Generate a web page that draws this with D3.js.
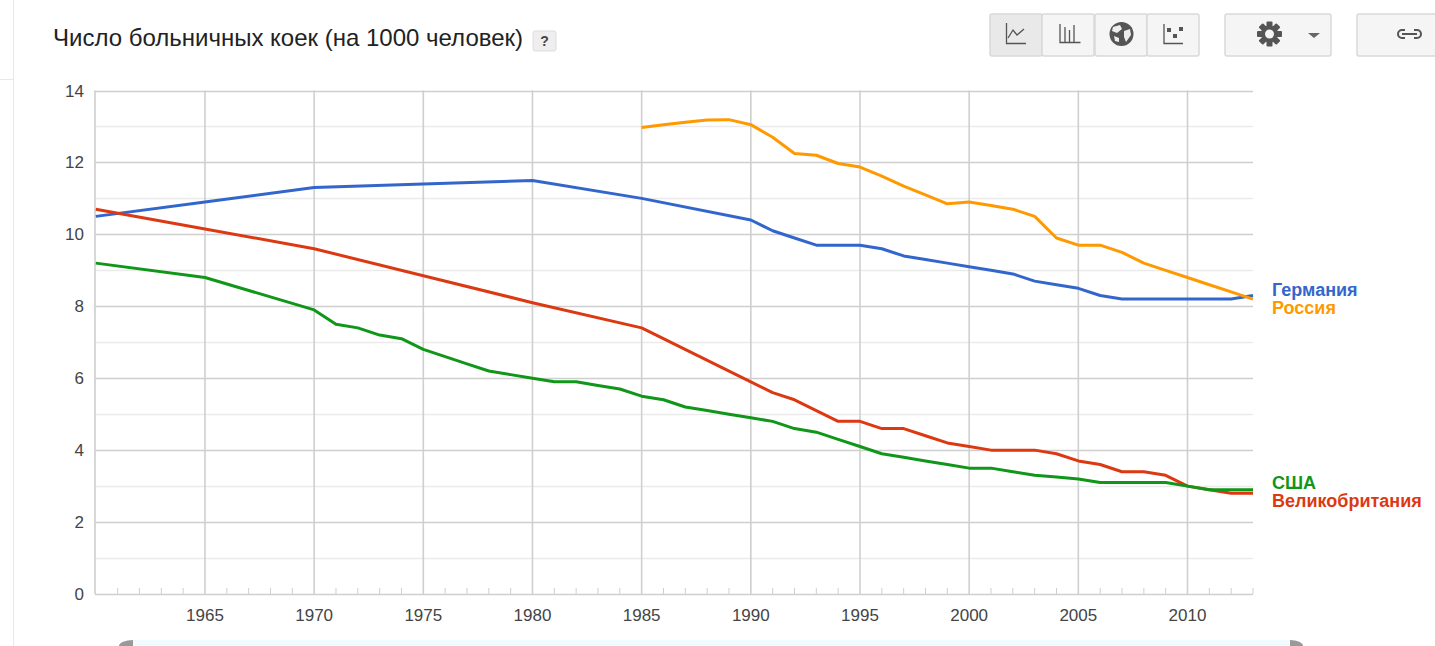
<!DOCTYPE html>
<html>
<head>
<meta charset="utf-8">
<script src="https://cdnjs.cloudflare.com/ajax/libs/d3/7.8.5/d3.min.js"></script>
<style>
  html, body { margin: 0; padding: 0; background: #fff; overflow: hidden; }
  text { font-family: "Liberation Sans", Arial, sans-serif; }
</style>
</head>
<body>
<div id="myDataVis"></div>
<script>
// values
const chartTitle = "Число больничных коек (на 1000 человек)";
const yTicks = [0, 2, 4, 6, 8, 10, 12, 14];
const yMinorTicks = [1, 3, 5, 7, 9, 11, 13];
const xTicks = [1965, 1970, 1975, 1980, 1985, 1990, 1995, 2000, 2005, 2010];

const germanyYears = [1960, 1965, 1970, 1975, 1980, 1985, 1990, 1991, 1992, 1993, 1994, 1995, 1996, 1997, 1998, 1999, 2000, 2001, 2002, 2003, 2004, 2005, 2006, 2007, 2008, 2009, 2010, 2011, 2012, 2013];
const germanyValues = [10.5, 10.9, 11.3, 11.4, 11.5, 11.0, 10.4, 10.1, 9.9, 9.7, 9.7, 9.7, 9.6, 9.4, 9.3, 9.2, 9.1, 9.0, 8.9, 8.7, 8.6, 8.5, 8.3, 8.2, 8.2, 8.2, 8.2, 8.2, 8.2, 8.3];

const russiaYears = [1985, 1986, 1987, 1988, 1989, 1990, 1991, 1992, 1993, 1994, 1995, 1996, 1997, 1998, 1999, 2000, 2001, 2002, 2003, 2004, 2005, 2006, 2007, 2008, 2009, 2010, 2011, 2012, 2013];
const russiaValues = [12.97, 13.05, 13.12, 13.18, 13.19, 13.05, 12.7, 12.25, 12.2, 11.97, 11.87, 11.62, 11.34, 11.1, 10.85, 10.9, 10.8, 10.7, 10.5, 9.9, 9.7, 9.7, 9.5, 9.2, 9.0, 8.8, 8.6, 8.4, 8.2];

const ukYears = [1960, 1965, 1970, 1975, 1980, 1985, 1990, 1991, 1992, 1993, 1994, 1995, 1996, 1997, 1998, 1999, 2000, 2001, 2002, 2003, 2004, 2005, 2006, 2007, 2008, 2009, 2010, 2011, 2012, 2013];
const ukValues = [10.7, 10.15, 9.6, 8.85, 8.1, 7.4, 5.9, 5.6, 5.4, 5.1, 4.8, 4.8, 4.6, 4.6, 4.4, 4.2, 4.1, 4.0, 4.0, 4.0, 3.9, 3.7, 3.6, 3.4, 3.4, 3.3, 3.0, 2.9, 2.8, 2.8];

const usaYears = [1960, 1965, 1970, 1971, 1972, 1973, 1974, 1975, 1976, 1977, 1978, 1979, 1980, 1981, 1982, 1983, 1984, 1985, 1986, 1987, 1988, 1989, 1990, 1991, 1992, 1993, 1994, 1995, 1996, 1997, 1998, 1999, 2000, 2001, 2002, 2003, 2004, 2005, 2006, 2007, 2008, 2009, 2010, 2011, 2012, 2013];
const usaValues = [9.2, 8.8, 7.9, 7.5, 7.4, 7.2, 7.1, 6.8, 6.6, 6.4, 6.2, 6.1, 6.0, 5.9, 5.9, 5.8, 5.7, 5.5, 5.4, 5.2, 5.1, 5.0, 4.9, 4.8, 4.6, 4.5, 4.3, 4.1, 3.9, 3.8, 3.7, 3.6, 3.5, 3.5, 3.4, 3.3, 3.25, 3.2, 3.1, 3.1, 3.1, 3.1, 3.0, 2.9, 2.9, 2.9];

const width = 1435;
const height = 646;
const margin = {top: 90.5, right: 182, left: 95, bottom: 52};
const plotRight = width - margin.right;
const plotBottom = height - margin.bottom;

const xScale = d3.scaleLinear().domain([1960, 2013]).range([margin.left + 0.8, plotRight]);
const yScale = d3.scaleLinear().domain([0, 14]).range([plotBottom, margin.top]);

const svg = d3.select("#myDataVis").append("svg")
    .attr("width", width).attr("height", height)
    .style("display", "block");

// faint page frame on the left
svg.append("path").attr("d", "M13.5,0V646M0,79.5H13.5").attr("fill", "none").attr("stroke", "#e8e8e8");

svg.append("text").attr("x", 53).attr("y", 46)
    .style("font-size", "24px").attr("fill", "#222").text(chartTitle);

// "?" help button
const help = svg.append("g");
help.append("rect").attr("x", 533).attr("y", 31).attr("width", 23).attr("height", 20).attr("rx", 2)
    .attr("fill", "#eee").attr("stroke", "#ddd");
help.append("text").attr("x", 544.5).attr("y", 46).attr("text-anchor", "middle")
    .style("font-size", "14px").style("font-weight", "bold").attr("fill", "#444").text("?");

// grid
svg.append("g").selectAll("line").data(yMinorTicks).enter().append("line")
    .attr("x1", margin.left).attr("x2", plotRight)
    .attr("y1", d => Math.round(yScale(d)) + 0.5).attr("y2", d => Math.round(yScale(d)) + 0.5)
    .attr("stroke", "#ebebeb").attr("stroke-width", 1.4);
svg.append("g").selectAll("line").data(yTicks).enter().append("line")
    .attr("x1", margin.left).attr("x2", plotRight)
    .attr("y1", d => Math.round(yScale(d)) + 0.5).attr("y2", d => Math.round(yScale(d)) + 0.5)
    .attr("stroke", "#cfcfcf").attr("stroke-width", 1.6);
svg.append("g").selectAll("line").data(xTicks).enter().append("line")
    .attr("x1", d => xScale(d)).attr("x2", d => xScale(d))
    .attr("y1", margin.top).attr("y2", plotBottom)
    .attr("stroke", "#cfcfcf").attr("stroke-width", 1.6);
svg.append("line").attr("x1", margin.left).attr("x2", margin.left)
    .attr("y1", margin.top).attr("y2", plotBottom)
    .attr("stroke", "#cfcfcf").attr("stroke-width", 1.6);

// small yearly ticks
svg.append("g").selectAll("line").data(d3.range(1961, 2014).filter(y => !xTicks.includes(y))).enter().append("line")
    .attr("x1", d => xScale(d)).attr("x2", d => xScale(d))
    .attr("y1", plotBottom - 6).attr("y2", plotBottom)
    .attr("stroke", "#cfcfcf");

// axis labels
svg.append("g").selectAll("text").data(yTicks).enter().append("text")
    .attr("x", margin.left - 11).attr("y", d => yScale(d) + 6).attr("text-anchor", "end")
    .style("font-size", "17px").attr("fill", "#444").text(d => d);
svg.append("g").selectAll("text").data(xTicks).enter().append("text")
    .attr("x", d => xScale(d)).attr("y", plotBottom + 27).attr("text-anchor", "middle")
    .style("font-size", "17px").attr("fill", "#444").text(d => d);

// lines, drawn in the original stacking order
const line = d3.line().x(d => xScale(d[0])).y(d => yScale(d[1]));
const drawSeries = function(years, values, color) {
    svg.append("path").datum(d3.zip(years, values))
        .attr("d", line).attr("fill", "none")
        .attr("stroke", color).attr("stroke-width", 3).attr("stroke-linejoin", "round");
};
drawSeries(germanyYears, germanyValues, "#3366cc");
drawSeries(ukYears, ukValues, "#dc3912");
drawSeries(usaYears, usaValues, "#109618");
drawSeries(russiaYears, russiaValues, "#ff9900");

// end labels
const addLabel = function(y, color, name) {
    svg.append("text").attr("x", 1272).attr("y", y)
        .style("font-size", "18px").style("font-weight", "bold").attr("fill", color).text(name);
};
addLabel(296, "#3366cc", "Германия");
addLabel(314, "#ff9900", "Россия");
addLabel(489, "#109618", "США");
addLabel(507, "#dc3912", "Великобритания");

// toolbar
const toolbar = svg.append("g");
const addButton = function(x, w, fill) {
    toolbar.append("rect").attr("x", x).attr("y", 14).attr("width", w).attr("height", 42).attr("rx", 2)
        .attr("fill", fill).attr("stroke", "#d9d9d9").attr("stroke-width", 1.5);
};
addButton(990, 52, "#e9e9e9");
addButton(1042, 52, "#f5f5f5");
addButton(1095, 52, "#f5f5f5");
addButton(1147, 52, "#f5f5f5");
addButton(1225, 106, "#f5f5f5");
addButton(1357, 90, "#f5f5f5");

const iconStroke = function(d, w) {
    toolbar.append("path").attr("d", d).attr("fill", "none").attr("stroke", "#555").attr("stroke-width", w || 1.3);
};
iconStroke("M1006.5,23V43.5H1026");
iconStroke("M1008,38L1013,30L1017,35L1024,29");
iconStroke("M1060,24V42.5H1080.5M1065,27V42M1069.5,30V42M1074,25V42");
iconStroke("M1164,24V43.5H1183");
[[1169, 30], [1181, 29], [1175, 36]].forEach(function(p) {
    toolbar.append("rect").attr("x", p[0] - 2).attr("y", p[1] - 2).attr("width", 4).attr("height", 4).attr("fill", "#555");
});

// globe
toolbar.append("circle").attr("cx", 1121.5).attr("cy", 34).attr("r", 12).attr("fill", "#555");
toolbar.append("path").attr("d", "M1113,27L1120,25L1122,29L1117,33L1112,31Z M1124,31L1130,29L1131,35L1126,42L1124,37Z M1114,36L1119,38L1119,42L1115,41Z")
    .attr("fill", "#eee");

// gear
const gear = toolbar.append("g").attr("transform", "translate(1269.5,34)");
d3.range(4).forEach(function(i) {
    gear.append("rect").attr("x", -3).attr("y", -12.5).attr("width", 6).attr("height", 25).attr("rx", 1)
        .attr("fill", "#555").attr("transform", `rotate(${i * 45})`);
});
gear.append("circle").attr("r", 8.5).attr("fill", "#555");
gear.append("circle").attr("r", 4.5).attr("fill", "#f5f5f5");
toolbar.append("path").attr("d", "M1308,33H1320L1314,38Z").attr("fill", "#666");

// link icon
iconStroke("M1405,30H1402a4,4 0 0 0 0,8H1405M1414,30H1417a4,4 0 0 1 0,8H1414M1402,34H1417", 2);

// range slider peeking in at the bottom
svg.append("rect").attr("x", 133).attr("y", 640).attr("width", 1157).attr("height", 6).attr("fill", "#f0fbff");
svg.append("path").attr("d", "M119,646a14,6 0 0 1 14,-6V646Z").attr("fill", "#999");
svg.append("path").attr("d", "M1290,640a13,6 0 0 1 13,6H1290Z").attr("fill", "#999");
</script>
</body>
</html>
